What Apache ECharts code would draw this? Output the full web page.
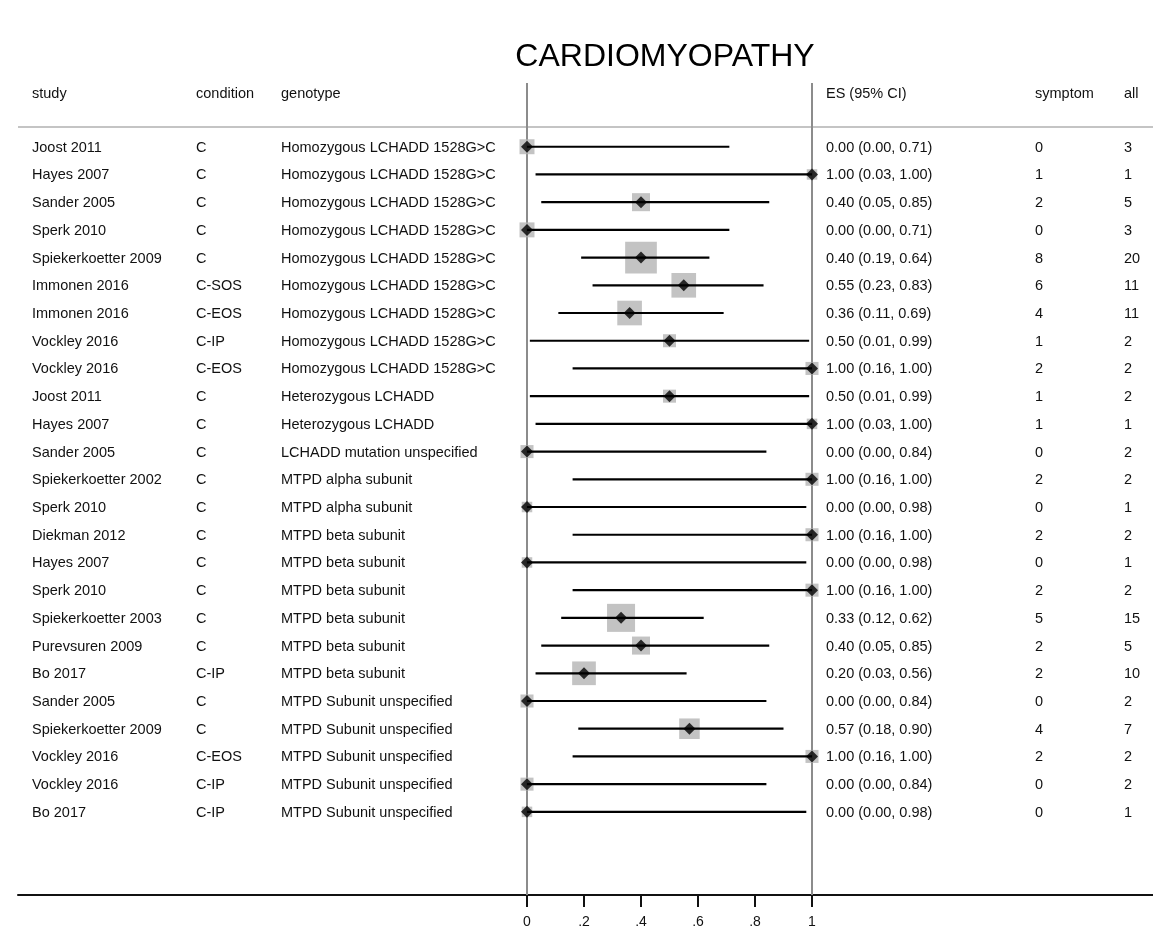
<!DOCTYPE html>
<html>
<head>
<meta charset="utf-8">
<script src="https://cdn.jsdelivr.net/npm/echarts@6/dist/echarts.min.js"></script>
<style>
html,body{margin:0;padding:0;background:#fff;}
#chart{width:1153px;height:951px;}
</style>
</head>
<body>
<div id="chart"></div>
<script>
// ---------------- data ----------------
const studies = ["Joost 2011","Hayes 2007","Sander 2005","Sperk 2010","Spiekerkoetter 2009","Immonen 2016","Immonen 2016","Vockley 2016","Vockley 2016","Joost 2011","Hayes 2007","Sander 2005","Spiekerkoetter 2002","Sperk 2010","Diekman 2012","Hayes 2007","Sperk 2010","Spiekerkoetter 2003","Purevsuren 2009","Bo 2017","Sander 2005","Spiekerkoetter 2009","Vockley 2016","Vockley 2016","Bo 2017"];
const conditions = ["C","C","C","C","C","C-SOS","C-EOS","C-IP","C-EOS","C","C","C","C","C","C","C","C","C","C","C-IP","C","C","C-EOS","C-IP","C-IP"];
const genotypes = ["Homozygous LCHADD 1528G>C","Homozygous LCHADD 1528G>C","Homozygous LCHADD 1528G>C","Homozygous LCHADD 1528G>C","Homozygous LCHADD 1528G>C","Homozygous LCHADD 1528G>C","Homozygous LCHADD 1528G>C","Homozygous LCHADD 1528G>C","Homozygous LCHADD 1528G>C","Heterozygous LCHADD","Heterozygous LCHADD","LCHADD mutation unspecified","MTPD alpha subunit","MTPD alpha subunit","MTPD beta subunit","MTPD beta subunit","MTPD beta subunit","MTPD beta subunit","MTPD beta subunit","MTPD beta subunit","MTPD Subunit unspecified","MTPD Subunit unspecified","MTPD Subunit unspecified","MTPD Subunit unspecified","MTPD Subunit unspecified"];
const es    = [0.00,1.00,0.40,0.00,0.40,0.55,0.36,0.50,1.00,0.50,1.00,0.00,1.00,0.00,1.00,0.00,1.00,0.33,0.40,0.20,0.00,0.57,1.00,0.00,0.00];
const ciLow = [0.00,0.03,0.05,0.00,0.19,0.23,0.11,0.01,0.16,0.01,0.03,0.00,0.16,0.00,0.16,0.00,0.16,0.12,0.05,0.03,0.00,0.18,0.16,0.00,0.00];
const ciHigh= [0.71,1.00,0.85,0.71,0.64,0.83,0.69,0.99,1.00,0.99,1.00,0.84,1.00,0.98,1.00,0.98,1.00,0.62,0.85,0.56,0.84,0.90,1.00,0.84,0.98];
const symptom = [0,1,2,0,8,6,4,1,2,1,1,0,2,0,2,0,2,5,2,2,0,4,2,0,0];
const allN    = [3,1,5,3,20,11,11,2,2,2,1,2,2,1,2,1,2,15,5,10,2,7,2,2,1];
const refLines = [0,1];
const xTicks = [0,0.2,0.4,0.6,0.8,1];
const xTickLabels = ["0",".2",".4",".6",".8","1"];
const headers = ["study","condition","genotype","ES (95% CI)","symptom","all"];
const titleText = "CARDIOMYOPATHY";

// ---------------- layout / style ----------------
const FONT = "'Liberation Sans', Arial, sans-serif";
const FS = 14.5;
const TXT = "#111";
const colX = [32,196,281,826,1035,1124];
const Y_MIN = -2.3, Y_MAX = 27;

const chart = echarts.init(document.getElementById('chart'), null, {renderer:'canvas'});

const boxData = es.map((v,i)=>({value:[v,i], symbolSize: 4.4 + 6.1*Math.sqrt(allN[i])}));
const diaData = es.map((v,i)=>[v,i]);
const ciData  = es.map((v,i)=>[ciLow[i],ciHigh[i],i]);

const option = {
  animation:false,
  backgroundColor:'#fff',
  grid:{left:18,right:0,top:83,bottom:56,containLabel:false},
  xAxis:{
    type:'value', min:-509/285, max:626/285,
    axisLine:{show:true,onZero:false,lineStyle:{color:'#111',width:2}},
    axisTick:{show:true,customValues:xTicks,length:12,lineStyle:{color:'#111',width:2}},
    axisLabel:{show:true,customValues:xTicks,margin:20,fontFamily:FONT,fontSize:14,color:TXT,
      formatter:(v)=>{const k=xTicks.findIndex(t=>Math.abs(t-v)<1e-6);return k>=0?xTickLabels[k]:'';}},
    splitLine:{show:false}
  },
  yAxis:{type:'value',inverse:true,min:Y_MIN,max:Y_MAX,show:false,splitLine:{show:false}},
  series:[
    {
      type:'custom', name:'ref', clip:false, silent:true, z:1,
      renderItem:(params,api)=>{
        const a=api.coord([api.value(0),Y_MIN]);
        const b=api.coord([api.value(0),Y_MAX]);
        return {type:'line',shape:{x1:a[0],y1:a[1],x2:b[0],y2:b[1]},style:{stroke:'#8c8c8c',lineWidth:2}};
      },
      encode:{x:0},
      data:refLines.map(v=>[v])
    },
    {
      type:'scatter', name:'box', symbol:'rect', clip:false, silent:true,
      itemStyle:{color:'#b4b4b4'}, data:boxData, z:2
    },
    {
      type:'custom', name:'ci', clip:false, silent:true, z:3,
      renderItem:(params,api)=>{
        const a=api.coord([api.value(0),api.value(2)]);
        const b=api.coord([api.value(1),api.value(2)]);
        return {type:'line',shape:{x1:a[0],y1:a[1],x2:b[0],y2:b[1]},style:{stroke:'#000',lineWidth:2.2}};
      },
      encode:{x:[0,1],y:2},
      data:ciData
    },
    {
      type:'scatter', name:'es', symbol:'diamond', symbolSize:12, clip:false, silent:true, z:4,
      itemStyle:{color:'#000'}, data:diaData
    }
  ]
};
chart.setOption(option);

// text columns placed on the rows via the y scale
const g = [];
g.push({type:'text',x:665,y:57,style:{text:titleText,font:`32px ${FONT}`,fill:'#000',textAlign:'center',textVerticalAlign:'middle'}});
headers.forEach((h,k)=>{
  g.push({type:'text',x:colX[k],y:93.5,style:{text:h,font:`${FS}px ${FONT}`,fill:TXT,textAlign:'left',textVerticalAlign:'middle'}});
});
g.push({type:'line',shape:{x1:18,y1:127,x2:1153,y2:127},style:{stroke:'#c4c4c4',lineWidth:2}});
for(let i=0;i<es.length;i++){
  const y = chart.convertToPixel({gridIndex:0},[0,i])[1];
  const cells = [studies[i],conditions[i],genotypes[i],
    `${es[i].toFixed(2)} (${ciLow[i].toFixed(2)}, ${ciHigh[i].toFixed(2)})`,
    String(symptom[i]),String(allN[i])];
  cells.forEach((t,k)=>{
    g.push({type:'text',x:colX[k],y:y+1,style:{text:t,font:`${FS}px ${FONT}`,fill:TXT,textAlign:'left',textVerticalAlign:'middle'}});
  });
}
chart.setOption({graphic:g});
</script>
</body>
</html>
